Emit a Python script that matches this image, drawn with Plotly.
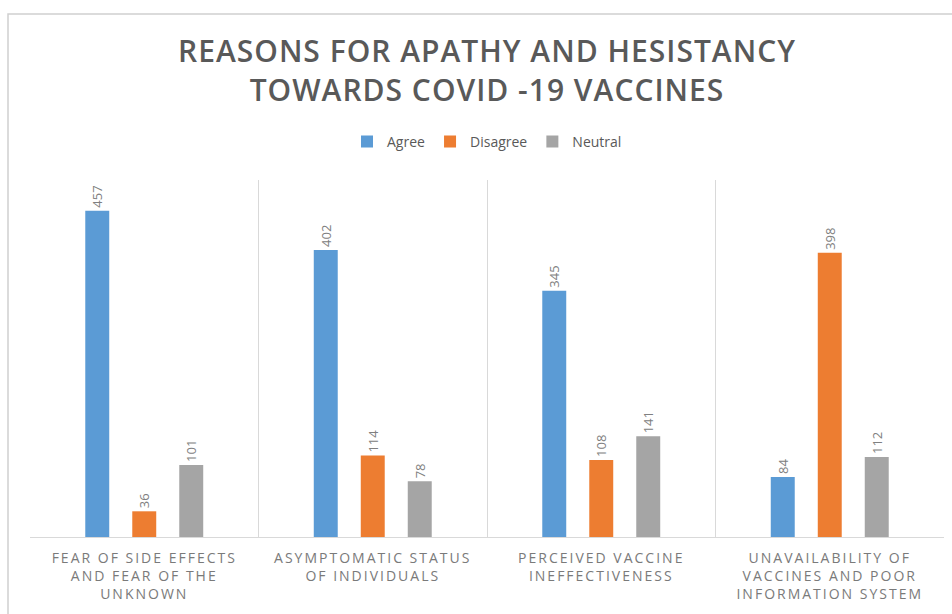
import plotly.graph_objects as go

categories = [
    "FEAR OF SIDE EFFECTS<br>AND FEAR OF THE<br>UNKNOWN",
    "ASYMPTOMATIC STATUS<br>OF INDIVIDUALS",
    "PERCEIVED VACCINE<br>INEFFECTIVENESS",
    "UNAVAILABILITY OF<br>VACCINES AND POOR<br>INFORMATION SYSTEM",
]
agree = [457, 402, 345, 84]
disagree = [36, 114, 108, 398]
neutral = [101, 78, 141, 112]

series = [("Agree", agree, "#5B9BD5"), ("Disagree", disagree, "#ED7D31"), ("Neutral", neutral, "#A5A5A5")]

fig = go.Figure()
for name, vals, color in series:
    fig.add_trace(go.Bar(
        x=categories, y=vals, name=name, marker_color=color, marker_line_width=0,
        text=vals, textposition="outside", textangle=-90, cliponaxis=False,
        textfont=dict(family="Open Sans", size=13, color="#808080"),
    ))

fig.update_layout(
    width=952, height=614,
    margin=dict(l=30, r=8, t=180, b=77),
    paper_bgcolor="white", plot_bgcolor="white",
    barmode="group", bargap=0.383, bargroupgap=0.49,
    title=dict(text="REASONS FOR APATHY AND HESISTANCY<br>TOWARDS COVID -19 VACCINES",
               x=0.5, xanchor="center", xref="paper", y=1 - 62 / 614, yanchor="middle", yref="container",
               font=dict(family="Open Sans", size=30, color="#595959", weight=600)),
    legend=dict(orientation="h", x=0.5, xanchor="center", y=0.795, yref="container",
                yanchor="top", font=dict(family="Open Sans", size=14, color="#595959"),
                itemwidth=30, traceorder="normal"),
    showlegend=True,
)
fig.update_xaxes(type="category", tickson="boundaries", showgrid=True, gridcolor="#d9d9d9",
                 gridwidth=1, showline=True, linecolor="#d9d9d9", ticks="", ticklabelstandoff=8,
                 tickfont=dict(family="Open Sans", size=14, color="#7a7a7a"))
fig.update_yaxes(range=[0, 500], showgrid=False, showticklabels=False, zeroline=False, showline=False)

fig.add_shape(type="rect", xref="paper", yref="paper",
              x0=-22 / 914, x1=1.2, y0=-0.5, y1=(537 - 14) / 357,
              line=dict(color="#d0d0d0", width=1.5), fillcolor="rgba(0,0,0,0)", layer="above")

post = """
document.querySelectorAll('.xtick text').forEach(function(t){t.style.letterSpacing='2px';});
document.querySelectorAll('.gtitle').forEach(function(t){t.style.letterSpacing='1px';});
"""
fig.write_html("out.html", post_script=post)
